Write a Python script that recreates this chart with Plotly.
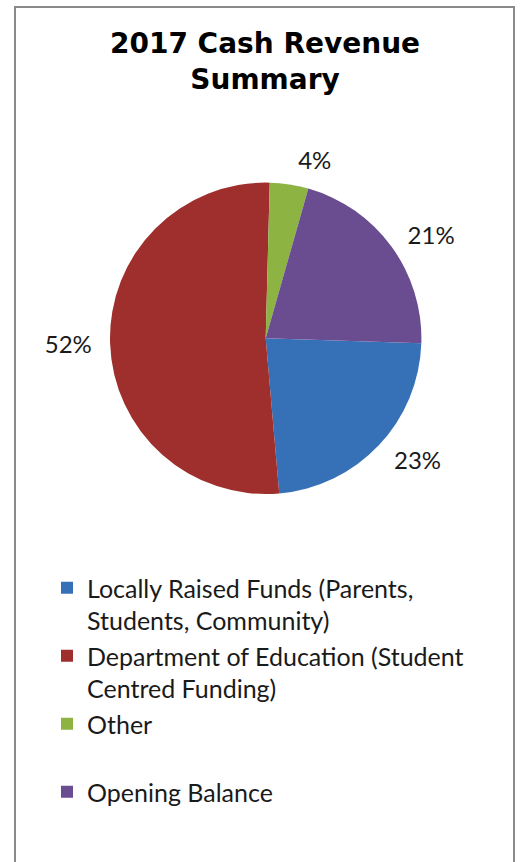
import plotly.graph_objects as go

categories = [
    "Locally Raised Funds (Parents,<br>Students, Community)",
    "Department of Education (Student<br>Centred Funding)",
    "Other<br> ",
    "Opening Balance",
]
values = [23.1, 51.8, 4.0, 21.1]
colors = ["#3671B8", "#9E2F2D", "#8DB343", "#6A4D91"]

W, H = 520, 862
CX, CY, R = 265.7, 338.3, 155.7   # pie centre / radius in px
RL = R + 11                         # radius of label ring

def dom(r):
    return dict(x=[(CX - r) / W, (CX + r) / W],
                y=[1 - (CY + r) / H, 1 - (CY - r) / H])

fig = go.Figure()
fig.add_trace(go.Pie(
    labels=categories,
    values=values,
    sort=False,
    direction="clockwise",
    rotation=91.85,
    marker=dict(colors=colors, line=dict(width=0)),
    textinfo="none",
    domain=dom(R),
    hoverinfo="label+percent",
))
# label ring (transparent) to place percentage labels a little off the pie
fig.add_trace(go.Pie(
    labels=categories,
    values=values,
    sort=False,
    direction="clockwise",
    rotation=91.85,
    marker=dict(colors=["rgba(0,0,0,0)"] * 4, line=dict(width=0)),
    texttemplate="%{percent:.0%}",
    textposition="outside",
    outsidetextfont=dict(family="Lato", size=24, color="#1a1a1a"),
    domain=dom(RL),
    showlegend=False,
    hoverinfo="skip",
))

fig.update_layout(
    width=W, height=H,
    margin=dict(l=0, r=0, t=0, b=0, autoexpand=False),
    paper_bgcolor="white",
    title=dict(
        text="<b>2017 Cash Revenue<br>Summary</b>",
        x=265 / W, xanchor="center",
        y=1 - 53 / H, yanchor="top",
        font=dict(family="DejaVu Sans", size=28, color="#000"),
    ),
    showlegend=True,
    legend=dict(
        x=47 / W, xanchor="left",
        y=1 - 565 / H, yanchor="top",
        font=dict(family="Lato", size=25, color="#1a1a1a"),
        valign="top",
        traceorder="normal",
    ),
    shapes=[dict(
        type="rect", xref="paper", yref="paper",
        x0=15 / W, x1=514 / W, y0=-0.05, y1=1 - 7 / H,
        line=dict(color="#8a8a8a", width=2),
        fillcolor="rgba(0,0,0,0)",
        layer="below",
    )],
)

fig.write_html(
    "out.html",
    config={"displayModeBar": False},
    post_script="document.body.style.margin='0';document.body.style.overflow='hidden';",
)
